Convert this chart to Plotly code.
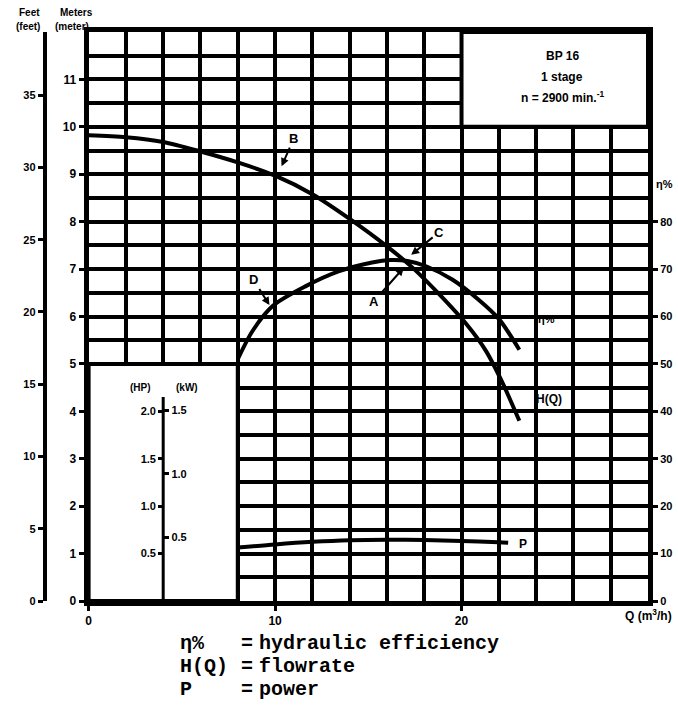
import plotly.graph_objects as go

# ---------------- data ----------------
Q_H = [0, 2, 4, 6, 8, 10, 12, 14, 16, 17.4, 18.8, 20.3, 21.3, 22.2, 23.1]
H_m = [9.82, 9.78, 9.68, 9.48, 9.25, 8.97, 8.58, 8.06, 7.48, 7.02, 6.47, 5.82, 5.28, 4.6, 3.8]

Q_eta = [8.0, 8.8, 9.9, 11.6, 13.4, 15.2, 16.2, 17.1, 18.1, 19.5, 20.9, 22.0, 23.1]
eta_pct = [51, 57, 62.3, 66.3, 69.5, 71.4, 71.9, 71.7, 70.6, 67.8, 63.6, 59.5, 53]

Q_P = [8, 10, 12, 14, 16, 18, 20, 22, 22.5]
P_kW = [0.42, 0.445, 0.465, 0.478, 0.482, 0.48, 0.472, 0.462, 0.458]

x_ticks = [0, 10, 20]
m_ticks = list(range(0, 12))
eta_ticks = list(range(0, 90, 10))
ft_ticks = list(range(0, 40, 5))
hp_ticks = [0.5, 1.0, 1.5, 2.0]
hp_text = ["0.5", "1.0", "1.5", "2.0"]
kw_ticks = [0.5, 1.0, 1.5]
kw_text = ["0.5", "1.0", "1.5"]

title_lines = ["BP 16", "1 stage", "n = 2900 min.<sup>-1</sup>"]
legend_rows = [("η%", "hydraulic efficiency"), ("H(Q)", "flowrate"), ("P", "power")]

# unit conversions
M_TO_FT = 3.28084
HP_PER_M = 0.5
KW_PER_HP = 0.7457

# ---------------- layout geometry ----------------
W, HGT = 678, 728
ML, MR, MT, MB = 0, 30, 32, 127
PW = W - ML - MR
PH = HGT - MT - MB
X0 = 86 / PW
Q_MAX, H_MAX = 30, 12


def px_x(px):
    return (px - ML) / PW


def px_y(py):
    return (HGT - MB - py) / PH


BOLD = dict(family="Liberation Sans", color="black", weight="bold")
tickfont = dict(BOLD, size=11)
CURVE = dict(color="black", width=4, shape="spline", smoothing=0.8)

fig = go.Figure()
fig.add_trace(go.Scatter(x=Q_H, y=H_m, mode="lines", line=CURVE, showlegend=False, hoverinfo="skip"))
fig.add_trace(go.Scatter(x=Q_eta, y=eta_pct, yaxis="y2", mode="lines", line=CURVE, showlegend=False,
                         hoverinfo="skip"))
fig.add_trace(go.Scatter(x=Q_P, y=P_kW, yaxis="y5", mode="lines", line=CURVE, showlegend=False,
                         hoverinfo="skip"))
# empty traces so that the extra axes are registered
fig.add_trace(go.Scatter(x=[None], y=[None], yaxis="y3", showlegend=False, hoverinfo="skip"))
fig.add_trace(go.Scatter(x=[None], y=[None], yaxis="y4", showlegend=False, hoverinfo="skip"))

grid = dict(showgrid=True, gridcolor="black", gridwidth=4)
fig.update_layout(
    width=W, height=HGT, margin=dict(l=ML, r=MR, t=MT, b=MB),
    paper_bgcolor="white", plot_bgcolor="white", showlegend=False,
    xaxis=dict(domain=[X0, 1], range=[0, Q_MAX], tickvals=x_ticks, ticks="outside", ticklen=5, tickwidth=3,
               tickcolor="black", showline=True, linewidth=5, linecolor="black", mirror=True, zeroline=False,
               tickfont=dict(BOLD, size=12), **grid,
               minor=dict(dtick=2, tick0=0, showgrid=True, gridcolor="black", gridwidth=4, ticks="")),
    yaxis=dict(range=[0, H_MAX], tickvals=m_ticks, ticks="outside", ticklen=5, tickwidth=3, tickcolor="black",
               showline=True, linewidth=5, linecolor="black", zeroline=False, tickfont=dict(BOLD, size=12), **grid,
               minor=dict(dtick=0.5, tick0=0, showgrid=True, gridcolor="black", gridwidth=4, ticks="")),
    yaxis2=dict(overlaying="y", side="right", anchor="x", range=[0, H_MAX * 10], tickvals=eta_ticks,
                ticks="outside", ticklen=5, tickwidth=3, tickcolor="black", showline=True, linewidth=5,
                linecolor="black", showgrid=False, zeroline=False, tickfont=tickfont),
    yaxis3=dict(overlaying="y", side="left", anchor="free", position=px_x(42), range=[0, H_MAX * M_TO_FT],
                tickvals=ft_ticks, ticks="outside", ticklen=5, tickwidth=3, tickcolor="black", showline=True,
                linewidth=4, linecolor="black", showgrid=False, zeroline=False, tickfont=tickfont),
    yaxis4=dict(overlaying="y", side="left", anchor="free", position=X0 + 4 / Q_MAX * (1 - X0),
                range=[0, H_MAX * HP_PER_M], tickvals=hp_ticks, ticktext=hp_text, ticks="outside", ticklen=5,
                tickwidth=3, tickcolor="black", showline=False, showgrid=False, zeroline=False, tickfont=tickfont),
    yaxis5=dict(overlaying="y", side="right", anchor="free", position=X0 + 4 / Q_MAX * (1 - X0),
                range=[0, H_MAX * HP_PER_M * KW_PER_HP], tickvals=kw_ticks, ticktext=kw_text, ticks="outside",
                ticklen=5, tickwidth=3, tickcolor="black", showline=False, showgrid=False, zeroline=False,
                tickfont=tickfont),
)

# white boxes (inset power scale, title box) above the grid, below the curves
fig.add_shape(type="rect", xref="x", yref="y", x0=0, x1=8, y0=0, y1=5, fillcolor="white",
              line=dict(color="black", width=4), layer="between")
fig.add_shape(type="rect", xref="x", yref="y", x0=20, x1=30, y0=10, y1=12, fillcolor="white",
              line=dict(color="black", width=4), layer="between")
# spine of the inset power scale
fig.add_shape(type="line", xref="x", yref="y", x0=4, x1=4, y0=0, y1=4.3, line=dict(color="black", width=3))

ann = []
# title box
for i, t in enumerate(title_lines):
    ann.append(dict(x=25.4, y=11.5 - i * 0.44, xref="x", yref="y", text=t, showarrow=False,
                    xanchor="center", font=dict(BOLD, size=12)))
# curve labels
ann.append(dict(x=24.0, y=5.95, xref="x", yref="y", text="η%", showarrow=False, xanchor="left",
                font=dict(BOLD, size=11)))
ann.append(dict(x=23.9, y=4.25, xref="x", yref="y", text="H(Q)", showarrow=False, xanchor="left",
                font=dict(BOLD, size=12)))
ann.append(dict(x=23.0, y=1.2, xref="x", yref="y", text="P", showarrow=False, xanchor="left",
                font=dict(BOLD, size=12)))
# letters with arrows
for txt, tx, ty, hx, hy in [("B", 11.0, 9.75, 10.35, 9.17), ("C", 18.8, 7.78, 17.3, 7.3),
                            ("A", 15.3, 6.32, 16.9, 7.03), ("D", 8.85, 6.77, 9.7, 6.24)]:
    ann.append(dict(x=hx, y=hy, ax=tx, ay=ty, xref="x", yref="y", axref="x", ayref="y", text=txt,
                    showarrow=True, arrowhead=2, arrowsize=0.8, arrowwidth=2, arrowcolor="black",
                    font=dict(BOLD, size=13)))
# axis captions
ann.append(dict(x=1 + 6 / PW, y=88, xref="paper", yref="y2", text="η%", showarrow=False, xanchor="left",
                font=dict(BOLD, size=11)))
ann.append(dict(x=px_x(674), y=px_y(625), xref="paper", yref="paper", text="Q (m<sup>3</sup>/h)",
                showarrow=False, xanchor="right", font=dict(BOLD, size=12)))
for txt, cx, cy in [("Feet", 27, 12), ("(feet)", 25, 26), ("Meters", 74, 12), ("(meter)", 69, 26),
                    ("(HP)", 138, 387), ("(kW)", 185, 387)]:
    ann.append(dict(x=px_x(cx), y=px_y(cy), xref="paper", yref="paper", text=txt, showarrow=False,
                    xanchor="center", yanchor="middle", font=dict(BOLD, size=10)))
# legend below
MONO = dict(family="Liberation Mono", color="black", weight="bold", size=20)
for i, (sym, desc) in enumerate(legend_rows):
    yy = px_y(656 + i * 23)
    ann.append(dict(x=px_x(177), y=yy, xref="paper", yref="paper", text=sym, showarrow=False, xanchor="left",
                    font=MONO, borderpad=0))
    ann.append(dict(x=px_x(238), y=yy, xref="paper", yref="paper", text="=", showarrow=False, xanchor="left",
                    font=MONO, borderpad=0))
    ann.append(dict(x=px_x(256), y=yy, xref="paper", yref="paper", text=desc, showarrow=False, xanchor="left",
                    font=MONO, borderpad=0))
fig.update_layout(annotations=ann)

fig.write_html("out.html", config={"displayModeBar": False},
               post_script="document.body.style.margin='0';document.body.style.overflow='hidden';")
